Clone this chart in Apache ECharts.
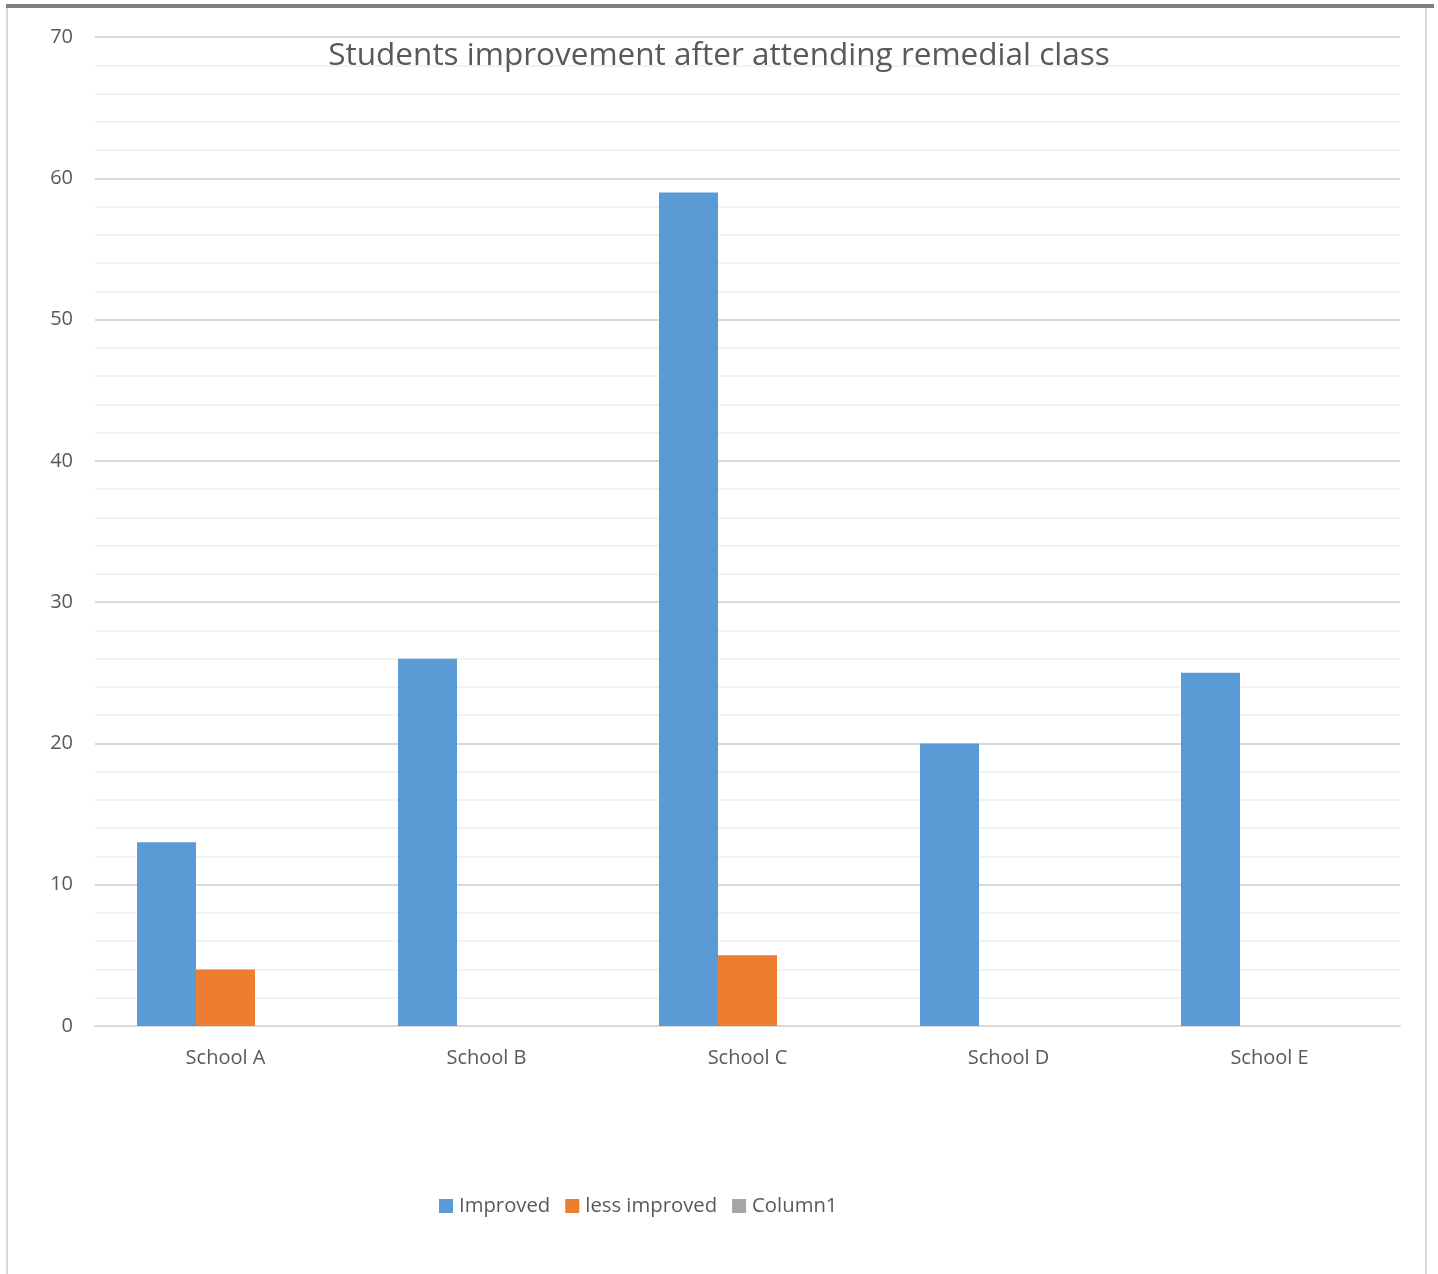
<!DOCTYPE html>
<html>
<head>
<meta charset="utf-8">
<script src="https://cdn.jsdelivr.net/npm/echarts@6/dist/echarts.min.js"></script>
<style>
  html, body { margin: 0; padding: 0; background: #fff; }
  #chart { width: 1438px; height: 1274px; }
</style>
</head>
<body>
<div id="chart"></div>
<script>
// Schools and counts of students per outcome
const schools = ['School A', 'School B', 'School C', 'School D', 'School E'];
const improved = [13, 26, 59, 20, 25];
const lessImproved = [4, null, 5, null, null];
const column1 = [null, null, null, null, null];

const textColor = '#595959';
const fontFamily = '"Open Sans", "Noto Sans", sans-serif';

const chart = echarts.init(document.getElementById('chart'));
chart.setOption({
  backgroundColor: '#ffffff',
  animation: false,
  textStyle: { fontFamily: fontFamily, color: textColor },
  title: {
    text: 'Students improvement after attending remedial class',
    left: 'center',
    top: 35,
    textStyle: { fontSize: 31.5, fontWeight: 'normal', color: textColor, fontFamily: fontFamily }
  },
  graphic: [
    { type: 'rect', shape: { x: 6, y: 4, width: 1428, height: 4 }, style: { fill: '#808080' }, silent: true },
    { type: 'rect', shape: { x: 6, y: 8, width: 2, height: 1266 }, style: { fill: '#d9d9d9' }, silent: true },
    { type: 'rect', shape: { x: 1425, y: 8, width: 2, height: 1266 }, style: { fill: '#d9d9d9' }, silent: true }
  ],
  legend: {
    bottom: 53,
    left: 434,
    itemWidth: 14,
    itemHeight: 14,
    itemGap: 15,
    icon: 'rect',
    textStyle: { fontSize: 20.3, color: textColor, padding: [0, 0, 0, 1] },
    data: ['Improved', 'less improved', 'Column1']
  },
  grid: { left: 95, right: 38, top: 37, bottom: 248, containLabel: false },
  xAxis: {
    type: 'category',
    data: schools,
    axisLine: { lineStyle: { color: '#d9d9d9', width: 2 } },
    axisTick: { show: false },
    axisLabel: { fontSize: 20, color: textColor, margin: 22 }
  },
  yAxis: {
    type: 'value',
    min: 0,
    max: 70,
    interval: 10,
    axisLine: { show: false },
    axisTick: { show: false },
    axisLabel: { fontSize: 20, color: textColor, margin: 22 },
    splitLine: { lineStyle: { color: '#d9d9d9', width: 2 } },
    minorTick: { show: false, splitNumber: 5 },
    minorSplitLine: { show: true, lineStyle: { color: '#f2f2f2', width: 2 } }
  },
  series: [
    { name: 'Improved', type: 'bar', data: improved, barWidth: 59, barGap: '0%', itemStyle: { color: '#5b9bd5' } },
    { name: 'less improved', type: 'bar', data: lessImproved, barWidth: 59, barGap: '0%', itemStyle: { color: '#ed7d31' } },
    { name: 'Column1', type: 'bar', data: column1, barWidth: 59, barGap: '0%', itemStyle: { color: '#a5a5a5' } }
  ]
});
</script>
</body>
</html>
